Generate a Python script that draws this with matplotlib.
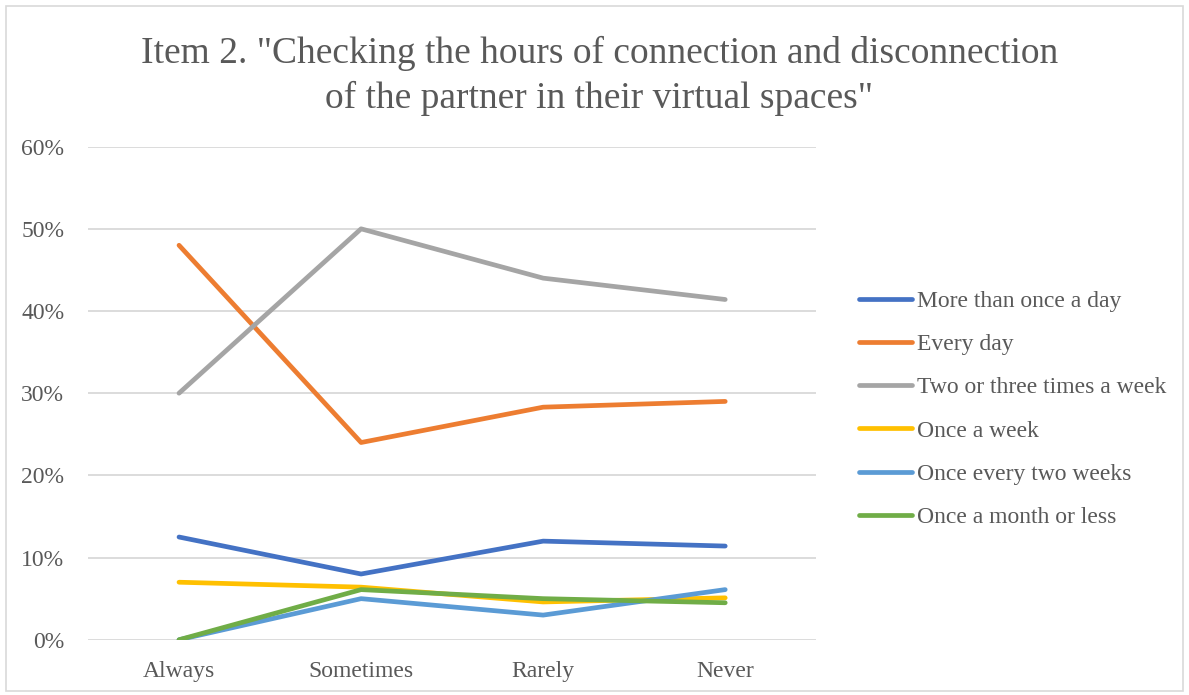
import matplotlib.pyplot as plt
from matplotlib.patches import Rectangle
from matplotlib.ticker import PercentFormatter

plt.rcParams['font.family'] = ['Liberation Serif', 'DejaVu Serif']

categories = ['Always', 'Sometimes', 'Rarely', 'Never']
series_names = ['More than once a day', 'Every day', 'Two or three times a week',
                'Once a week', 'Once every two weeks', 'Once a month or less']
more_than_once_a_day = [12.5, 8.0, 12.0, 11.4]
every_day = [48.0, 24.0, 28.3, 29.0]
two_or_three_a_week = [30.0, 50.0, 44.0, 41.4]
once_a_week = [7.0, 6.4, 4.6, 5.1]
once_two_weeks = [0.0, 5.0, 3.0, 6.1]
once_a_month = [0.0, 6.1, 5.0, 4.5]
values = [more_than_once_a_day, every_day, two_or_three_a_week,
          once_a_week, once_two_weeks, once_a_month]
colors = ['#4472C4', '#ED7D31', '#A5A5A5', '#FFC000', '#5B9BD5', '#70AD47']

text_col = '#595959'

fig = plt.figure(figsize=(11.89, 6.95), dpi=100)
ax = fig.add_axes([0.074, 0.0795, 0.6125, 0.7095])

x = range(len(categories))
lines = []
for name, vals, c in zip(series_names, values, colors):
    ln, = ax.plot(x, vals, color=c, lw=3.4, label=name,
                  solid_capstyle='round', solid_joinstyle='round')
    lines.append(ln)

ax.set_xlim(-0.5, 3.5)
ax.set_ylim(0, 60)
ax.set_yticks(range(0, 61, 10))
ax.yaxis.set_major_formatter(PercentFormatter(decimals=0))
ax.set_xticks(list(x))
ax.set_xticklabels(categories)
ax.grid(axis='y', color='#D9D9D9', lw=1.3)
ax.set_axisbelow(True)
for s in ax.spines.values():
    s.set_visible(False)
ax.tick_params(length=0, labelsize=17, colors=text_col)
ax.tick_params(axis='x', pad=15)
ax.tick_params(axis='y', pad=17)

fig.text(0.504, 0.891, 'Item 2. "Checking the hours of connection and disconnection\n'
         'of the partner in their virtual spaces"',
         ha='center', va='center', fontsize=27, color=text_col, linespacing=1.36)

fig.legend(handles=lines, loc='center left', bbox_to_anchor=(0.7045, 0.411),
           frameon=False, fontsize=17, labelcolor=text_col,
           handlelength=2.25, handletextpad=0.2, labelspacing=0.92)

# thin frame round the whole chart
fig.patches.append(Rectangle((0.005, 0.006), 0.99, 0.986, transform=fig.transFigure,
                             fill=False, edgecolor='#D9D9D9', lw=1.2))

fig.savefig('out.png', dpi=100)
